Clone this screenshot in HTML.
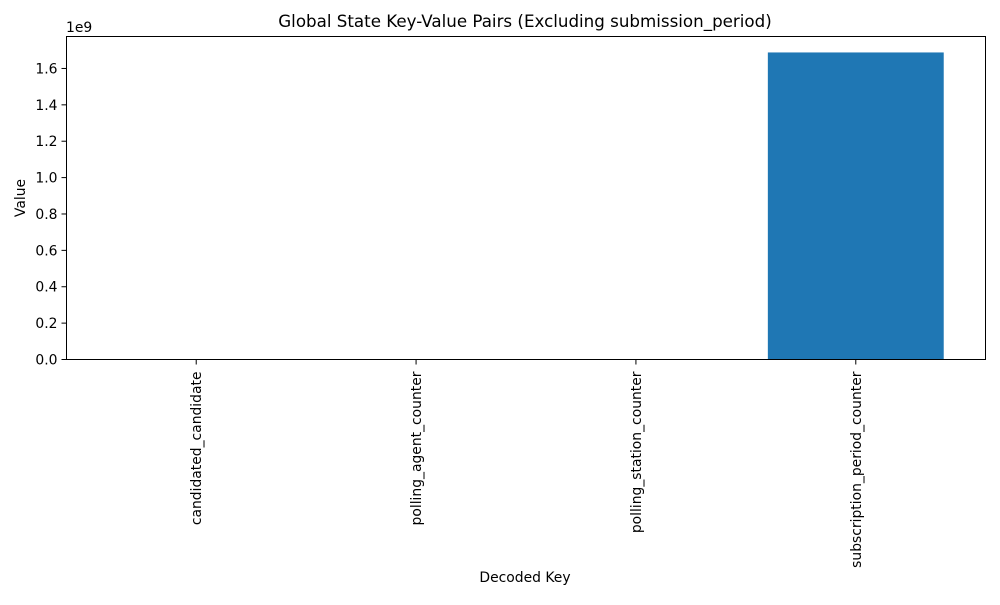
<!DOCTYPE html>
<html><head><meta charset="utf-8"><style>
body{margin:0;background:#fff;font-family:"Liberation Sans","DejaVu Sans",sans-serif;}
svg text{font-family:"DejaVu Sans","Liberation Sans",sans-serif;fill:#000;}
</style></head><body>
<svg id="chart" width="1000" height="600" xmlns="http://www.w3.org/2000/svg">
<rect width="1000" height="600" fill="#fff"/>
<text x="525" y="27" font-size="16.7" text-anchor="middle">Global State Key-Value Pairs (Excluding submission_period)</text>
<text x="525" y="582" font-size="13.9" text-anchor="middle">Decoded Key</text>
<text transform="translate(25,198) rotate(-90)" font-size="13.9" text-anchor="middle">Value</text>
<text x="66" y="32" font-size="13.9">1e9</text>
<g id="bars"></g><g id="yticks"></g><g id="xticks"></g>
<rect x="66.5" y="36.5" width="919" height="323" fill="none" stroke="#000" stroke-width="1"/>
</svg>
<script>
const categories=["candidated_candidate","polling_agent_counter","polling_station_counter","subscription_period_counter"];
const values=[1,1,1,1688000000];
const yTicks=[0,0.2,0.4,0.6,0.8,1.0,1.2,1.4,1.6];
const L=66.5,R=985.5,T=36.5,B=359.5;
const yMax=1.7757e9;
const xMin=-0.59,xMax=3.59;
const sx=v=>L+(v-xMin)/(xMax-xMin)*(R-L);
const sy=v=>B-v/yMax*(B-T);
const NS="http://www.w3.org/2000/svg";
const bars=document.getElementById('bars'),yt=document.getElementById('yticks'),xt=document.getElementById('xticks');
categories.forEach((c,i)=>{
  const r=document.createElementNS(NS,'rect');
  r.setAttribute('x',sx(i-0.4));r.setAttribute('width',sx(i+0.4)-sx(i-0.4));
  r.setAttribute('y',sy(values[i]));r.setAttribute('height',B-sy(values[i]));
  r.setAttribute('fill','#1f77b4');
  
  
  bars.appendChild(r);
  const x=sx(i);
  const l=document.createElementNS(NS,'line');
  l.setAttribute('x1',x);l.setAttribute('x2',x);l.setAttribute('y1',B);l.setAttribute('y2',B+5);l.setAttribute('stroke','#000');
  
  
  xt.appendChild(l);
  const t=document.createElementNS(NS,'text');
  t.setAttribute('transform',`translate(${x+5},${B+12}) rotate(-90)`);
  t.setAttribute('font-size','13.9');t.setAttribute('text-anchor','end');
  t.textContent=c;
  
  
  xt.appendChild(t);
});
yTicks.forEach(v=>{
  const y=sy(v*1e9);
  const l=document.createElementNS(NS,'line');
  l.setAttribute('x1',L-5);l.setAttribute('x2',L);l.setAttribute('y1',y);l.setAttribute('y2',y);l.setAttribute('stroke','#000');
  
  
  yt.appendChild(l);
  const t=document.createElementNS(NS,'text');
  t.setAttribute('x',L-9);t.setAttribute('y',y+5);t.setAttribute('font-size','13.9');t.setAttribute('text-anchor','end');
  t.textContent=v.toFixed(1);
  
  
  yt.appendChild(t);
});
</script>
</body></html>
